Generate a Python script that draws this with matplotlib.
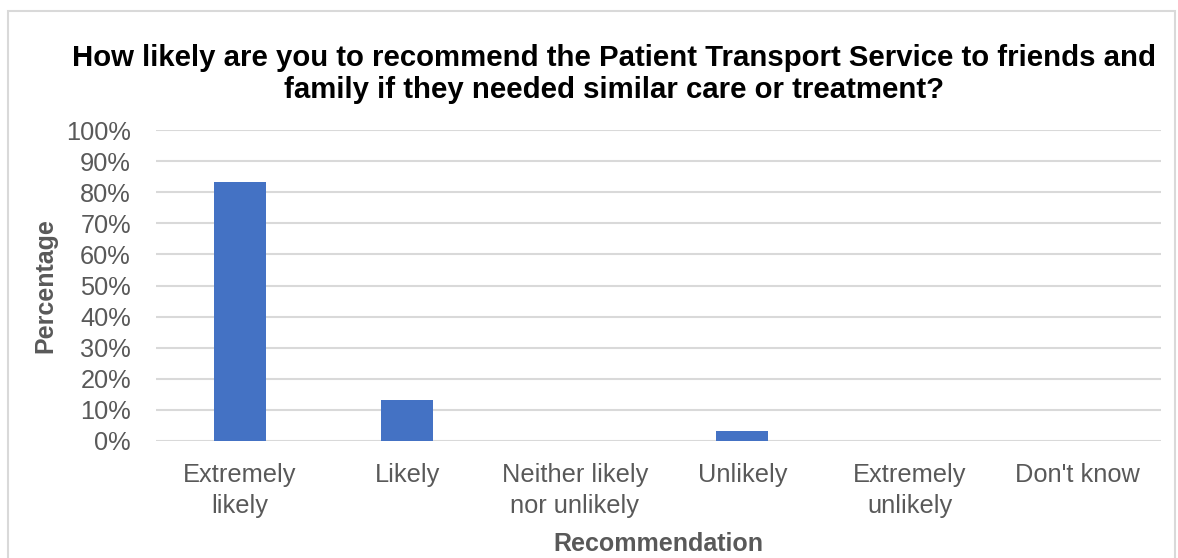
import numpy as np
import matplotlib.pyplot as plt
from matplotlib.patches import Rectangle
from matplotlib.ticker import PercentFormatter

# Survey responses
categories = ["Extremely\nlikely", "Likely", "Neither likely\nnor unlikely",
              "Unlikely", "Extremely\nunlikely", "Don't know"]
percentages = [83.3, 13.3, 0.0, 3.3, 0.0, 0.0]

plt.rcParams["font.family"] = ["Liberation Sans", "DejaVu Sans"]

fig = plt.figure(figsize=(11.78, 5.58), dpi=100)
ax = fig.add_axes([0.1324, 0.2097, 0.8532, 0.5573])

# Outer chart border
fig.patches.append(Rectangle((8 / 1178, -0.05), 1167 / 1178, 1 - 11 / 558 + 0.05,
                             transform=fig.transFigure, fill=False,
                             edgecolor="#d9d9d9", linewidth=1.5))

x = np.arange(len(categories))
ax.bar(x, percentages, width=0.31, color="#4472C4", zorder=3)

ax.set_xlim(-0.5, len(categories) - 0.5)
ax.set_ylim(0, 100)
ax.set_yticks(np.arange(0, 101, 10))
ax.yaxis.set_major_formatter(PercentFormatter(decimals=0))
ax.set_xticks(x)
ax.set_xticklabels(categories, linespacing=1.38)

ax.grid(axis="y", color="#d9d9d9", linewidth=1.5, zorder=0)
for s in ax.spines.values():
    s.set_visible(False)
ax.tick_params(length=0, labelsize=18.3, colors="#595959")
ax.tick_params(axis="x", pad=16)
ax.tick_params(axis="y", pad=18)

ax.set_ylabel("Percentage", fontsize=18, fontweight="bold", color="#595959", labelpad=6)
ax.set_xlabel("Recommendation", fontsize=18, fontweight="bold", color="#595959", labelpad=10)

fig.text(614 / 1178, 1 - 74 / 558,
         "How likely are you to recommend the Patient Transport Service to friends and\n"
         "family if they needed similar care or treatment?",
         ha="center", va="center", fontsize=21.2, fontweight="bold", linespacing=1.2)

fig.savefig("out.png", dpi=100)
